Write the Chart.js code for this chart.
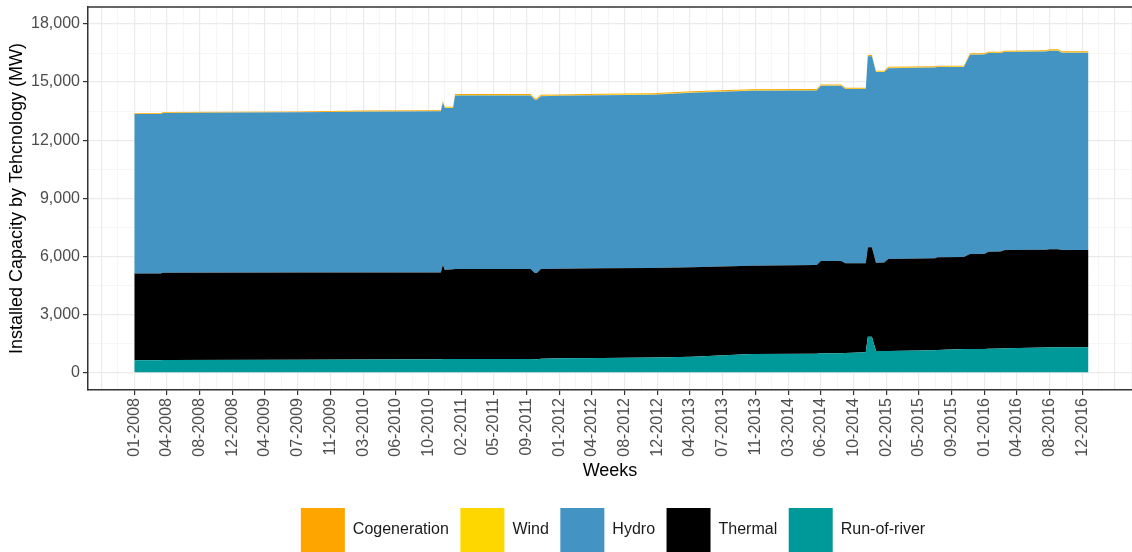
<!DOCTYPE html>
<html>
<head>
<meta charset="utf-8">
<script src="https://cdn.jsdelivr.net/npm/chart.js@4.4.1/dist/chart.umd.min.js"></script>
<style>
  html, body { margin: 0; padding: 0; background: #fff; }
  #wrap { width: 1132px; height: 552px; }
</style>
</head>
<body>
<div id="wrap"><canvas id="capacityChart" width="1132" height="552"></canvas></div>
<script>
// week index (0 = first week of 2008) where the capacity changes
const weeks = [0, 13, 14, 80, 112, 148, 150, 151, 152, 156, 157, 194, 196, 197, 199, 208, 229, 254, 273, 302,
  334, 336, 346, 348, 358, 359, 361, 363, 367, 369, 392, 393, 406, 409, 416, 418, 424, 426, 446, 448, 452, 454, 467];

const runOfRiver = [620, 620, 640, 650, 660, 680, 680, 690, 690, 690, 690, 690, 680, 680, 700, 720, 740, 760, 800, 940,
  960, 980, 990, 1000, 1030, 1840, 1840, 1100, 1100, 1100, 1140, 1150, 1200, 1205, 1210, 1220, 1230, 1240, 1280, 1290, 1290, 1300, 1300];

const thermal = [4490, 4490, 4510, 4505, 4500, 4480, 4480, 4855, 4600, 4630, 4650, 4650, 4450, 4450, 4640, 4630, 4635, 4630, 4630, 4570,
  4590, 4770, 4760, 4630, 4610, 4620, 4620, 4565, 4570, 4755, 4760, 4790, 4760, 4910, 4910, 5010, 5010, 5080, 5060, 5065, 5065, 5020, 5020];

const hydro = [8235, 8235, 8255, 8280, 8310, 8330, 8330, 8405, 8370, 8340, 8970, 8970, 8960, 8960, 8930, 8940, 8945, 8960, 9020, 9045,
  9020, 9060, 9060, 9010, 9000, 9870, 9870, 9855, 9850, 9865, 9850, 9835, 9820, 10300, 10300, 10270, 10260, 10230, 10240, 10265, 10265, 10200, 10200];

const wind = [10, 10, 10, 10, 10, 10, 10, 20, 20, 20, 20, 20, 20, 20, 20, 20, 20, 20, 20, 20,
  20, 20, 20, 20, 20, 20, 20, 20, 20, 20, 20, 20, 20, 20, 20, 20, 20, 20, 20, 20, 20, 20, 20];

const cogeneration = [35, 35, 35, 35, 50, 50, 50, 50, 50, 50, 50, 50, 50, 50, 50, 50, 50, 50, 50, 50,
  50, 50, 50, 50, 50, 50, 50, 50, 50, 50, 50, 50, 50, 50, 50, 50, 50, 50, 50, 50, 50, 50, 50];

// one label every 16 weeks, starting at week 0
const tickLabels = ['01-2008', '04-2008', '08-2008', '12-2008', '04-2009', '07-2009', '11-2009', '03-2010', '06-2010', '10-2010',
  '02-2011', '05-2011', '09-2011', '01-2012', '04-2012', '08-2012', '12-2012', '04-2013', '07-2013', '11-2013',
  '03-2014', '06-2014', '10-2014', '02-2015', '05-2015', '09-2015', '01-2016', '04-2016', '08-2016', '12-2016'];

const yTickValues = [0, 3000, 6000, 9000, 12000, 15000, 18000];

const FONT = 'Liberation Sans, Arial, sans-serif';

function toPoints(values) {
  return weeks.map((w, i) => ({ x: w, y: values[i] }));
}

function area(label, values, color, fill) {
  return {
    label: label,
    data: toPoints(values),
    backgroundColor: color,
    borderColor: 'rgba(0,0,0,0)',
    borderWidth: 0,
    pointRadius: 0,
    pointHoverRadius: 0,
    tension: 0,
    fill: fill
  };
}

const xLabel = (v) => (v >= 0 && v % 16 === 0 && v / 16 < tickLabels.length) ? tickLabels[v / 16] : '';
const isYMajor = (v) => yTickValues.includes(v);

// ggplot-like panel border on top, and legend centred on the panel
const panelTweaks = {
  id: 'panelTweaks',
  afterLayout(chart) {
    if (chart.legend) {
      chart.legend.left += 47;
      chart.legend.right += 47;
    }
  },
  afterDatasetsDraw(chart) {
    const { ctx, chartArea } = chart;
    ctx.save();
    ctx.strokeStyle = '#333333';
    ctx.lineWidth = 1.5;
    ctx.beginPath();
    ctx.moveTo(chartArea.left, chartArea.top);
    ctx.lineTo(chartArea.right, chartArea.top);
    ctx.stroke();
    ctx.restore();
  }
};

const ctx = document.getElementById('capacityChart').getContext('2d');
new Chart(ctx, {
  type: 'line',
  data: {
    datasets: [
      area('Run-of-river', runOfRiver, '#009999', 'origin'),
      area('Thermal', thermal, '#000000', '-1'),
      area('Hydro', hydro, '#4393C3', '-1'),
      area('Wind', wind, '#FFD700', '-1'),
      area('Cogeneration', cogeneration, '#FFA500', '-1')
    ]
  },
  options: {
    responsive: false,
    animation: false,
    devicePixelRatio: 1,
    layout: { padding: { top: 7, left: 0, right: 0, bottom: -10 } },
    plugins: {
      tooltip: { enabled: false },
      legend: {
        position: 'bottom',
        reverse: true,
        labels: {
          boxWidth: 44,
          boxHeight: 44,
          padding: 11.5,
          color: '#1a1a1a',
          font: { family: FONT, size: 16 }
        }
      }
    },
    scales: {
      x: {
        type: 'linear',
        min: -22.66,
        max: 488.3,
        afterFit: (scale) => {
          scale.height = 106.5;
          scale.paddingLeft = 0;
          scale.paddingRight = 0;
        },
        border: { color: '#333333', width: 1.5 },
        grid: {
          color: (c) => (c.tick && c.tick.value % 16 === 0) ? '#ebebeb' : '#f2f2f2',
          lineWidth: (c) => (c.tick && c.tick.value % 16 === 0) ? 1.2 : 0.7,
          tickColor: (c) => (c.tick && xLabel(c.tick.value) !== '') ? '#333333' : 'rgba(0,0,0,0)',
          tickLength: 5
        },
        ticks: {
          stepSize: 8,
          includeBounds: false,
          autoSkip: false,
          maxRotation: 90,
          minRotation: 90,
          padding: 3,
          color: '#4d4d4d',
          font: { family: FONT, size: 16 },
          callback: xLabel
        },
        title: {
          display: true,
          text: 'Weeks',
          color: '#000000',
          font: { family: FONT, size: 18 },
          padding: { top: 0, bottom: 14.5 }
        }
      },
      y: {
        stacked: true,
        min: -915,
        max: 18880,
        afterBuildTicks: (scale) => {
          const ticks = [];
          yTickValues.forEach((v, i) => {
            ticks.push({ value: v });
            if (i < yTickValues.length - 1) ticks.push({ value: (v + yTickValues[i + 1]) / 2 });
          });
          scale.ticks = ticks;
        },
        afterFit: (scale) => {
          scale.width = 88;
          scale.paddingTop = 0;
          scale.paddingBottom = 0;
        },
        border: { color: '#333333', width: 1.5 },
        grid: {
          color: (c) => (c.tick && isYMajor(c.tick.value)) ? '#ebebeb' : '#f2f2f2',
          lineWidth: (c) => (c.tick && isYMajor(c.tick.value)) ? 1.2 : 0.7,
          tickColor: (c) => (c.tick && isYMajor(c.tick.value)) ? '#333333' : 'rgba(0,0,0,0)',
          tickLength: 5
        },
        ticks: {
          autoSkip: false,
          padding: 3,
          color: '#4d4d4d',
          font: { family: FONT, size: 16 },
          callback: (v) => isYMajor(v) ? v.toLocaleString('en-US') : ''
        },
        title: {
          display: true,
          text: 'Installed Capacity by Tehcnology (MW)',
          color: '#000000',
          font: { family: FONT, size: 18 },
          padding: { top: 6, bottom: 0 }
        }
      }
    }
  },
  plugins: [panelTweaks]
});
</script>
</body>
</html>
